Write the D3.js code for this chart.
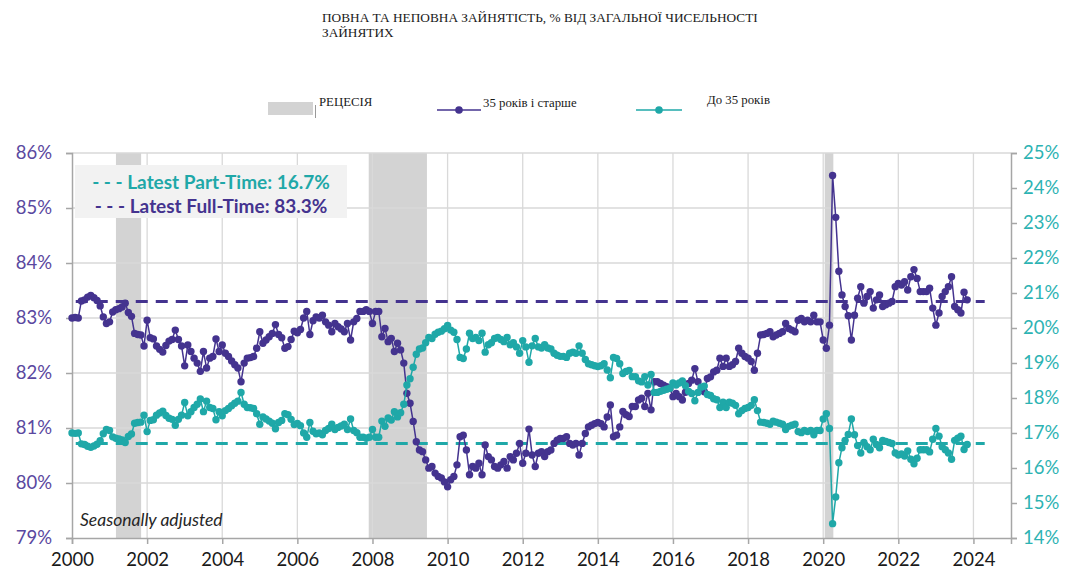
<!DOCTYPE html>
<html><head><meta charset="utf-8">
<script src="https://cdnjs.cloudflare.com/ajax/libs/d3/7.8.5/d3.min.js"></script>
<style>
html,body{margin:0;padding:0;background:#fff;}
svg{display:block;}
</style></head>
<body>
<svg id="chart" width="1085" height="586"></svg>
<script>
const titleLines = ["ПОВНА ТА НЕПОВНА ЗАЙНЯТІСТЬ, % ВІД ЗАГАЛЬНОЇ ЧИСЕЛЬНОСТІ", "ЗАЙНЯТИХ"];
const legendLabels = ["РЕЦЕСІЯ", "35 років і старше", "До 35 років"];
const xTickYears = [2000, 2002, 2004, 2006, 2008, 2010, 2012, 2014, 2016, 2018, 2020, 2022, 2024];
const leftTicks = [79, 80, 81, 82, 83, 84, 85, 86];
const rightTicks = [14, 15, 16, 17, 18, 19, 20, 21, 22, 23, 24, 25];
const recessions = [[2001.17, 2001.84], [2007.9, 2009.45], [2020.04, 2020.27]];
const startYear = 2000; // monthly series from Jan 2000
const latestFull = 83.3;
const latestPart = 16.7;
const annotationLines = ["- - - Latest Part-Time: 16.7%", "- - - Latest Full-Time: 83.3%"];
const noteText = "Seasonally adjusted";

// 35 років і старше (left axis, %)
const olderValues = [
 83.00,83.01,83.00,83.31,83.33,83.38,83.41,83.37,83.32,83.22,83.02,82.90,
 82.93,83.11,83.15,83.17,83.20,83.27,83.10,83.03,82.72,82.70,82.69,82.49,
 82.96,82.64,82.62,82.49,82.43,82.38,82.50,82.58,82.61,82.78,82.61,82.49,
 82.13,82.51,82.39,82.27,82.18,82.03,82.39,82.09,82.27,82.30,82.62,82.39,
 82.51,82.36,82.30,82.22,82.15,82.09,81.84,82.18,82.27,82.28,82.30,82.45,
 82.75,82.54,82.60,82.66,82.72,82.88,82.70,82.64,82.45,82.48,82.61,82.76,
 82.73,82.79,83.00,83.12,82.70,82.95,83.02,83.00,83.05,82.93,82.87,82.75,
 82.90,82.84,82.80,82.75,82.90,82.60,82.93,82.99,83.12,83.12,83.15,83.12,
 82.90,83.12,83.12,82.66,82.81,82.57,82.63,82.39,82.54,82.42,82.18,81.63,
 81.45,81.12,80.75,80.60,80.57,80.42,80.27,80.30,80.18,80.12,80.09,80.02,
 79.93,80.06,80.12,80.33,80.84,80.87,80.60,80.15,80.30,80.27,80.36,80.15,
 80.69,80.48,80.42,80.30,80.27,80.33,80.39,80.27,80.48,80.42,80.54,80.72,
 80.36,80.54,80.98,80.51,80.30,80.54,80.57,80.48,80.57,80.60,80.72,80.78,
 80.81,80.81,80.84,80.72,80.69,80.72,80.51,80.72,80.90,81.02,81.05,81.08,
 81.10,81.08,81.02,81.20,81.42,80.84,80.87,81.02,81.30,81.24,81.21,81.39,
 81.39,81.51,81.54,81.39,81.63,81.33,81.84,81.84,81.81,81.78,81.75,81.72,
 81.57,81.63,81.57,81.51,81.65,81.81,81.87,82.08,81.84,81.69,81.66,81.90,
 81.93,82.02,82.05,82.27,82.12,82.27,82.12,82.15,82.21,82.45,82.36,82.30,
 82.27,82.21,82.05,82.36,82.69,82.70,82.72,82.75,82.66,82.69,82.72,82.75,
 82.90,82.81,82.78,82.75,82.96,82.99,82.93,82.96,82.93,83.05,82.93,82.93,
 82.60,82.45,82.87,85.59,84.83,83.85,83.42,83.21,83.04,82.60,83.05,83.36,
 83.57,83.27,83.39,83.48,83.18,83.33,83.42,83.21,83.24,83.27,83.30,83.57,
 83.63,83.60,83.66,83.51,83.75,83.88,83.72,83.48,83.48,83.48,83.54,83.18,
 82.87,83.09,83.39,83.48,83.57,83.75,83.21,83.15,83.09,83.47,83.33
];

// До 35 років (right axis, %)
const youngerValues = [
 17.00,16.99,17.00,16.69,16.67,16.62,16.59,16.63,16.68,16.78,16.98,17.10,
 17.07,16.89,16.85,16.83,16.80,16.73,16.90,16.97,17.28,17.30,17.31,17.51,
 17.04,17.36,17.38,17.51,17.57,17.62,17.50,17.42,17.39,17.22,17.39,17.51,
 17.87,17.49,17.61,17.73,17.82,17.97,17.61,17.91,17.73,17.70,17.38,17.61,
 17.49,17.64,17.70,17.78,17.85,17.91,18.16,17.82,17.73,17.72,17.70,17.55,
 17.25,17.46,17.40,17.34,17.28,17.12,17.30,17.36,17.55,17.52,17.39,17.24,
 17.27,17.21,17.00,16.88,17.30,17.05,16.98,17.00,16.95,17.07,17.13,17.25,
 17.10,17.16,17.20,17.25,17.10,17.40,17.07,17.01,16.88,16.88,16.85,16.88,
 17.10,16.88,16.88,17.34,17.19,17.43,17.37,17.61,17.46,17.58,17.82,18.37,
 18.55,18.88,19.25,19.40,19.43,19.58,19.73,19.70,19.82,19.88,19.91,19.98,
 20.07,19.94,19.88,19.67,19.16,19.13,19.40,19.85,19.70,19.73,19.64,19.85,
 19.31,19.52,19.58,19.70,19.73,19.67,19.61,19.73,19.52,19.58,19.46,19.28,
 19.64,19.46,19.02,19.49,19.70,19.46,19.43,19.52,19.43,19.40,19.28,19.22,
 19.19,19.19,19.16,19.28,19.31,19.28,19.49,19.28,19.10,18.98,18.95,18.92,
 18.90,18.92,18.98,18.80,18.58,19.16,19.13,18.98,18.70,18.76,18.79,18.61,
 18.61,18.49,18.46,18.61,18.37,18.67,18.16,18.16,18.19,18.22,18.25,18.28,
 18.43,18.37,18.43,18.49,18.35,18.19,18.13,17.92,18.16,18.31,18.34,18.10,
 18.07,17.98,17.95,17.73,17.88,17.73,17.88,17.85,17.79,17.55,17.64,17.70,
 17.73,17.79,17.95,17.64,17.31,17.30,17.28,17.25,17.34,17.31,17.28,17.25,
 17.10,17.19,17.22,17.25,17.04,17.01,17.07,17.04,17.07,16.95,17.07,17.07,
 17.40,17.55,17.13,14.41,15.17,16.15,16.58,16.79,16.96,17.40,16.95,16.64,
 16.43,16.73,16.61,16.52,16.82,16.67,16.58,16.79,16.76,16.73,16.70,16.43,
 16.37,16.40,16.34,16.49,16.25,16.12,16.28,16.52,16.52,16.52,16.46,16.82,
 17.13,16.91,16.61,16.52,16.43,16.25,16.79,16.85,16.91,16.53,16.67
];

const PURPLE = "#44338f";
const TEAL = "#1fa8a8";
const svg = d3.select("#chart");

const x = d3.scaleLinear().domain([2000, 2025]).range([72, 1011]);
const yL = d3.scaleLinear().domain([79, 86]).range([538, 153]);
const yR = d3.scaleLinear().domain([14, 25]).range([538, 153]);
const t = i => startYear + i / 12;

// title
svg.append("g").selectAll("text").data(titleLines).join("text")
  .attr("x", 322).attr("y", (d, i) => 22 + i * 15)
  .style("font-family", "'Liberation Serif', 'Times New Roman', serif")
  .style("font-size", "13.3px").attr("fill", "#1a1a1a").text(d => d);

// legend
const lg = svg.append("g").style("font-family", "'Liberation Serif', serif").style("font-size", "12.8px").attr("fill", "#1a1a1a");
lg.append("rect").attr("x", 268).attr("y", 102).attr("width", 45).attr("height", 13).attr("fill", "#d3d3d3");
lg.append("line").attr("x1", 315.5).attr("x2", 315.5).attr("y1", 105).attr("y2", 118).attr("stroke", "#999").attr("stroke-width", 1);
lg.append("text").attr("x", 319).attr("y", 106).text(legendLabels[0]);
lg.append("line").attr("x1", 437).attr("x2", 481).attr("y1", 110).attr("y2", 110).attr("stroke", PURPLE).attr("stroke-width", 1.5);
lg.append("circle").attr("cx", 459).attr("cy", 110).attr("r", 3.8).attr("fill", PURPLE);
lg.append("text").attr("x", 483).attr("y", 107).text(legendLabels[1]);
lg.append("line").attr("x1", 636).attr("x2", 682).attr("y1", 110).attr("y2", 110).attr("stroke", TEAL).attr("stroke-width", 1.5);
lg.append("circle").attr("cx", 659).attr("cy", 110).attr("r", 3.8).attr("fill", TEAL);
lg.append("text").attr("x", 707).attr("y", 104).text(legendLabels[2]);

// recession bands
svg.append("g").selectAll("rect").data(recessions).join("rect")
  .attr("x", d => x(d[0])).attr("width", d => x(d[1]) - x(d[0]))
  .attr("y", yL(86)).attr("height", yL(79) - yL(86)).attr("fill", "#d3d3d3");

// gridlines
const grid = svg.append("g").attr("stroke", "#d9d9d9").attr("stroke-width", 1.3);
grid.selectAll("line.h").data(leftTicks.slice(1)).join("line").attr("class", "h")
  .attr("x1", x(2000)).attr("x2", x(2025)).attr("y1", d => yL(d)).attr("y2", d => yL(d));
grid.selectAll("line.v").data(xTickYears.slice(1)).join("line").attr("class", "v")
  .attr("x1", d => x(d)).attr("x2", d => x(d)).attr("y1", yL(86)).attr("y2", yL(79));

// axes
const axisColor = "#a6a6a6";
const fontAxis = "Lato, 'Open Sans', sans-serif";
const gx = svg.append("g").attr("transform", `translate(0,${yL(79)})`)
  .call(d3.axisBottom(x).tickValues(xTickYears).tickFormat(d3.format("d")).tickSize(6).tickPadding(9));
const gl = svg.append("g").attr("transform", `translate(${x(2000)},0)`)
  .call(d3.axisLeft(yL).tickValues(leftTicks).tickFormat(d => d + "%").tickSize(6).tickPadding(14));
const gr = svg.append("g").attr("transform", `translate(${x(2025)},0)`)
  .call(d3.axisRight(yR).tickValues(rightTicks).tickFormat(d => d + "%").tickSize(6).tickPadding(6));
[gx, gl, gr].forEach(g => {
  g.select(".domain").attr("stroke", axisColor).attr("stroke-width", 1.5);
  g.selectAll(".tick line").attr("stroke", axisColor).attr("stroke-width", 1.5);
  g.selectAll(".tick text").style("font-family", fontAxis).style("font-size", "18.5px");
});
gx.selectAll(".tick text").attr("fill", "#1a1a1a");
gl.selectAll(".tick text").attr("fill", "#5a48a0");
gr.selectAll(".tick text").attr("fill", "#2db3b3");

// latest dashed reference lines
svg.append("line").attr("x1", x(2000.1)).attr("x2", x(2024.3)).attr("y1", yL(latestFull)).attr("y2", yL(latestFull))
  .attr("stroke", PURPLE).attr("stroke-width", 3).attr("stroke-dasharray", "12,8");
svg.append("line").attr("x1", x(2000.1)).attr("x2", x(2024.3)).attr("y1", yR(latestPart)).attr("y2", yR(latestPart))
  .attr("stroke", TEAL).attr("stroke-width", 3).attr("stroke-dasharray", "12,8");

// series
function drawSeries(vals, yScale, color) {
  const g = svg.append("g");
  g.append("path").datum(vals)
    .attr("d", d3.line().x((d, i) => x(t(i))).y(d => yScale(d)))
    .attr("fill", "none").attr("stroke", color).attr("stroke-width", 1.5);
  g.selectAll("circle").data(vals).join("circle")
    .attr("cx", (d, i) => x(t(i))).attr("cy", d => yScale(d)).attr("r", 3.7).attr("fill", color);
}
drawSeries(olderValues, yL, PURPLE);
drawSeries(youngerValues, yR, TEAL);

// annotation box
svg.append("rect").attr("x", 75).attr("y", 165).attr("width", 272).attr("height", 53).attr("fill", "#f2f2f2");
svg.append("g").selectAll("text").data(annotationLines).join("text")
  .attr("x", 211).attr("y", (d, i) => 189 + i * 24).attr("text-anchor", "middle")
  .style("font-family", fontAxis).style("font-size", "19px").style("font-weight", "bold")
  .attr("fill", (d, i) => i === 0 ? TEAL : PURPLE).text(d => d);

// note
svg.append("text").attr("x", 80).attr("y", 526).style("font-family", fontAxis)
  .style("font-size", "17.5px").style("font-style", "italic").attr("fill", "#262626").text(noteText);
</script>
</body></html>
